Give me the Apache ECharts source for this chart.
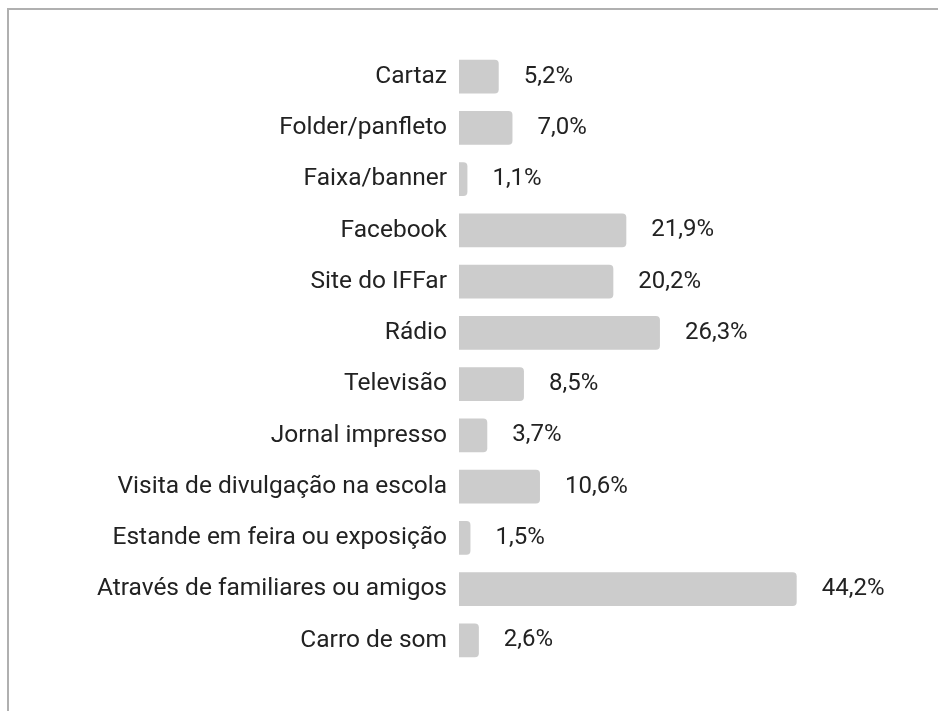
<!DOCTYPE html>
<html>
<head>
<meta charset="utf-8">
<script src="https://cdn.jsdelivr.net/npm/echarts@6/dist/echarts.min.js"></script>
<style>
  html, body { margin: 0; padding: 0; background: #fff; }
  #chart { width: 938px; height: 711px; }
</style>
</head>
<body>
<div id="chart"></div>
<script>
// categories top to bottom, as in the picture
const categories = [
  'Cartaz', 'Folder/panfleto', 'Faixa/banner', 'Facebook', 'Site do IFFar',
  'Rádio', 'Televisão', 'Jornal impresso', 'Visita de divulgação na escola',
  'Estande em feira ou exposição', 'Através de familiares ou amigos', 'Carro de som'
];
const percentages = [5.2, 7.0, 1.1, 21.9, 20.2, 26.3, 8.5, 3.7, 10.6, 1.5, 44.2, 2.6];

const chart = echarts.init(document.getElementById('chart'));

const option = {
  animation: false,
  textStyle: { fontFamily: 'Roboto' },
  grid: { left: 459, top: 51, bottom: 45, width: 382 },
  graphic: [
    { type: 'line', shape: { x1: 8, y1: 9, x2: 938, y2: 9 }, style: { stroke: '#b0b0b0', lineWidth: 2 } },
    { type: 'line', shape: { x1: 8, y1: 8, x2: 8, y2: 711 }, style: { stroke: '#b0b0b0', lineWidth: 2 } }
  ],
  xAxis: {
    type: 'value',
    min: 0,
    max: 50,
    show: false
  },
  yAxis: {
    type: 'category',
    data: categories,
    inverse: true,
    axisLine: { show: false },
    axisTick: { show: false },
    axisLabel: { color: '#222', fontSize: 24.5, margin: 12, fontFamily: 'Roboto' }
  },
  series: [
    {
      type: 'bar',
      data: percentages,
      barCategoryGap: '34%',
      itemStyle: { color: '#cccccc', borderRadius: [0, 4, 4, 0] },
      label: {
        show: true,
        position: 'right',
        distance: 25,
        color: '#222',
        fontSize: 24,
        fontFamily: 'Roboto',
        formatter: p => p.value.toFixed(1).replace('.', ',') + '%'
      }
    }
  ]
};

chart.setOption(option);
</script>
</body>
</html>
